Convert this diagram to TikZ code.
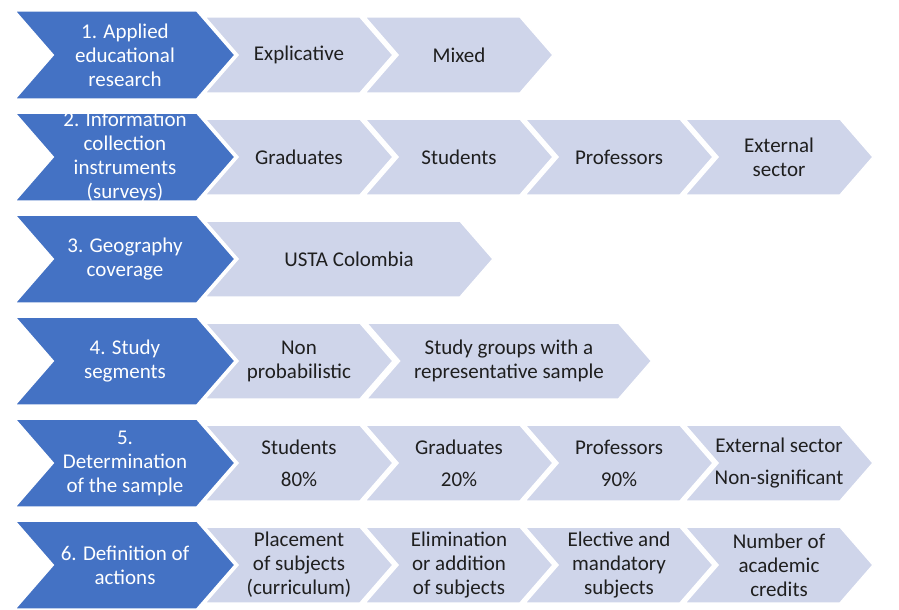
\documentclass[tikz,border=0pt]{standalone}
\usepackage{fontspec}
\setmainfont{Carlito}
\usepackage{xcolor}
\usepackage{tikz}
\usetikzlibrary{shapes.symbols}
\definecolor{stepblue}{HTML}{4472C4}
\definecolor{steplight}{HTML}{CFD5EA}
\definecolor{steptext}{HTML}{1F1F1F}

\begin{document}
\begin{tikzpicture}[x=1pt, y=-1pt,
  chev/.style={signal, signal from=west, signal to=east, signal pointer angle=98,
    draw=white, line width=1.5pt, inner sep=0pt, align=center,
    font=\fontsize{21}{24}\selectfont},
  head/.style={chev, fill=stepblue, text=white, minimum width=220pt, minimum height=88pt},
  item/.style={chev, fill=steplight, text=steptext, minimum width=188pt, minimum height=76pt}]
%\draw[help lines, step=50] (0,0) grid (899,610);
\useasboundingbox (0,0) rectangle (899,610);
%==================== Row 1 ==================
\node[head] (h1) at (125,55) {1. Applied\\educational\\research};
\node[item] (a1) at (299,55) {Explicative};
\node[item] (b1) at (459,55) {Mixed};
%==================== Row 2 ==================
\node[head, inner ysep=-2pt] (h2) at (125,157) {2. Information\\collection\\instruments\\(surveys)};
\node[item] (a2) at (299,157) {Graduates};
\node[item] (b2) at (459,157) {Students};
\node[item] (c2) at (619,157) {Professors};
\node[item] (d2) at (779,157) {External\\sector};
%==================== Row 3 ==================
\node[head] (h3) at (125,259) {3. Geography\\coverage};
\node[item, minimum width=288pt] (a3) at (349,259) {USTA Colombia};
%==================== Row 4 ==================
\node[head] (h4) at (125,361) {4. Study\\segments};
\node[item] (a4) at (299,361) {Non\\probabilistic};
\node[item, minimum width=285pt] (b4) at (509,361) {Study groups with a\\representative sample};
%==================== Row 5 ==================
\node[head] (h5) at (125,463) {5.\\Determination\\of the sample};
\node[item] (a5) at (299,463) {Students\\[8pt]80\%};
\node[item] (b5) at (459,463) {Graduates\\[8pt]20\%};
\node[item] (c5) at (619,463) {Professors\\[8pt]90\%};
\node[item, inner xsep=-6pt] (d5) at (779,463) {External sector\\[8pt]Non-significant};
%==================== Row 6 ==================
\node[head] (h6) at (125,565) {6. Definition of\\actions};
\node[item] (a6) at (299,565) {Placement\\of subjects\\(curriculum)};
\node[item] (b6) at (459,565) {Elimination\\or addition\\of subjects};
\node[item] (c6) at (619,565) {Elective and\\mandatory\\subjects};
\node[item] (d6) at (779,565) {Number of\\academic\\credits};
\end{tikzpicture}
\end{document}
